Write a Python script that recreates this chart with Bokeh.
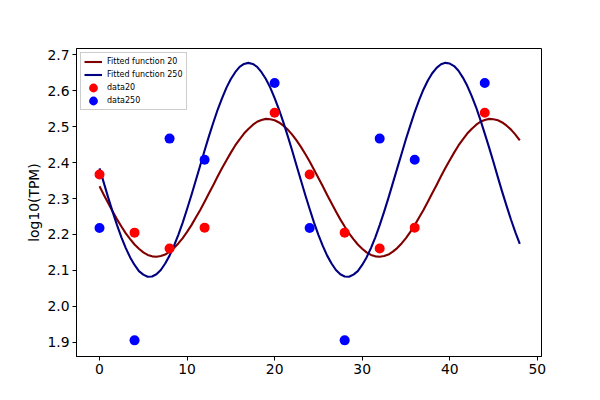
from bokeh.plotting import figure
from bokeh.models import Range1d, FixedTicker, Legend, LegendItem, PrintfTickFormatter
from bokeh.embed import file_html
from bokeh.resources import INLINE

# --- data ---
x_data = [0, 4, 8, 12, 20, 24, 28, 32, 36, 44]
data20 = [2.367, 2.205, 2.161, 2.219, 2.539, 2.367, 2.205, 2.161, 2.219, 2.539]
data250 = [2.218, 1.905, 2.467, 2.408, 2.622, 2.218, 1.905, 2.467, 2.408, 2.622]

# fitted curves, read every half unit from 0 to 48
x_fit = [k * 0.5 for k in range(97)]
fit20 = [2.334, 2.310, 2.287, 2.264, 2.242, 2.222, 2.203, 2.187, 2.172, 2.160,
         2.150, 2.143, 2.139, 2.138, 2.140, 2.144, 2.152, 2.162, 2.175, 2.190,
         2.207, 2.226, 2.247, 2.268, 2.291, 2.315, 2.338, 2.362, 2.385, 2.407,
         2.428, 2.448, 2.465, 2.481, 2.494, 2.505, 2.514, 2.519, 2.522, 2.521,
         2.518, 2.512, 2.503, 2.492, 2.478, 2.462, 2.444, 2.424, 2.403, 2.380,
         2.357, 2.334, 2.310, 2.287, 2.264, 2.242, 2.222, 2.203, 2.187, 2.172,
         2.160, 2.150, 2.143, 2.139, 2.138, 2.140, 2.144, 2.152, 2.162, 2.175,
         2.190, 2.207, 2.226, 2.247, 2.268, 2.291, 2.315, 2.338, 2.362, 2.385,
         2.407, 2.428, 2.448, 2.465, 2.481, 2.494, 2.505, 2.514, 2.519, 2.522,
         2.521, 2.518, 2.512, 2.503, 2.492, 2.478, 2.462]
fit250 = [2.384, 2.343, 2.302, 2.263, 2.226, 2.192, 2.162, 2.136, 2.115, 2.098,
          2.088, 2.082, 2.083, 2.089, 2.101, 2.119, 2.141, 2.168, 2.199, 2.233,
          2.271, 2.310, 2.351, 2.392, 2.434, 2.474, 2.512, 2.548, 2.580, 2.609,
          2.633, 2.652, 2.667, 2.675, 2.678, 2.675, 2.667, 2.652, 2.633, 2.609,
          2.580, 2.548, 2.512, 2.474, 2.434, 2.392, 2.351, 2.310, 2.271, 2.233,
          2.199, 2.168, 2.141, 2.119, 2.101, 2.089, 2.083, 2.082, 2.088, 2.098,
          2.115, 2.136, 2.162, 2.192, 2.226, 2.263, 2.302, 2.343, 2.384, 2.425,
          2.466, 2.504, 2.541, 2.574, 2.604, 2.629, 2.649, 2.664, 2.674, 2.678,
          2.676, 2.669, 2.656, 2.637, 2.614, 2.586, 2.555, 2.519, 2.481, 2.442,
          2.401, 2.359, 2.318, 2.279, 2.241, 2.206, 2.174]

x_ticks = [0, 10, 20, 30, 40, 50]
y_ticks = [1.9, 2.0, 2.1, 2.2, 2.3, 2.4, 2.5, 2.6, 2.7]
y_label = "log10(TPM)"
legend_labels = ["Fitted function 20", "Fitted function 250", "data20", "data250"]

FONT = "DejaVu Sans"

p = figure(width=584, height=384, output_backend="svg", toolbar_location=None,
           x_range=Range1d(-2.63, 50.48), y_range=Range1d(1.860, 2.718),
           min_border_left=76, min_border_right=43, min_border_top=48,
           min_border_bottom=28)

p.xgrid.grid_line_color = None
p.ygrid.grid_line_color = None
p.outline_line_color = "black"
p.outline_line_alpha = 1
p.outline_line_width = 1
p.background_fill_color = "white"
p.border_fill_color = "white"

for ax in (p.xaxis[0], p.yaxis[0]):
    ax.axis_line_color = "black"
    ax.major_tick_line_color = "black"
    ax.major_tick_out = 4
    ax.major_tick_in = 0
    ax.minor_tick_line_color = None
    ax.major_label_standoff = 3
    ax.major_label_text_font = FONT
    ax.major_label_text_font_size = "13.9px"
    ax.major_label_text_color = "black"
    ax.axis_label_text_font = FONT
    ax.axis_label_text_font_size = "13.9px"
    ax.axis_label_text_font_style = "normal"
    ax.axis_label_text_color = "black"

p.xaxis.ticker = FixedTicker(ticks=x_ticks)
p.yaxis.ticker = FixedTicker(ticks=y_ticks)
p.yaxis.formatter = PrintfTickFormatter(format="%.1f")
p.yaxis.axis_label = y_label
p.yaxis.axis_label_standoff = 2

l20 = p.line(x_fit, fit20, line_color="#800000", line_width=2.1, line_join="round")
l250 = p.line(x_fit, fit250, line_color="#000080", line_width=2.1, line_join="round")
s20 = p.ellipse(x_data, data20, width=10, height=10, width_units="screen",
                height_units="screen", fill_color="#ff0000", line_color=None)
s250 = p.ellipse(x_data, data250, width=10, height=10, width_units="screen",
                 height_units="screen", fill_color="#0000ff", line_color=None)

legend = Legend(items=[
    LegendItem(label=legend_labels[0], renderers=[l20]),
    LegendItem(label=legend_labels[1], renderers=[l250]),
    LegendItem(label=legend_labels[2], renderers=[s20]),
    LegendItem(label=legend_labels[3], renderers=[s250]),
], location="top_left")
legend.margin = 4
legend.padding = 3
legend.spacing = 2
legend.glyph_width = 18
legend.glyph_height = 11
legend.label_height = 11
legend.label_standoff = 5
legend.label_text_font = FONT
legend.label_text_font_size = "8px"
legend.label_text_color = "black"
legend.border_line_color = "#cccccc"
legend.border_line_alpha = 1
legend.border_line_width = 1
legend.background_fill_color = "white"
legend.background_fill_alpha = 0.8
p.add_layout(legend)

open("out.html", "w").write(file_html(p, INLINE))
